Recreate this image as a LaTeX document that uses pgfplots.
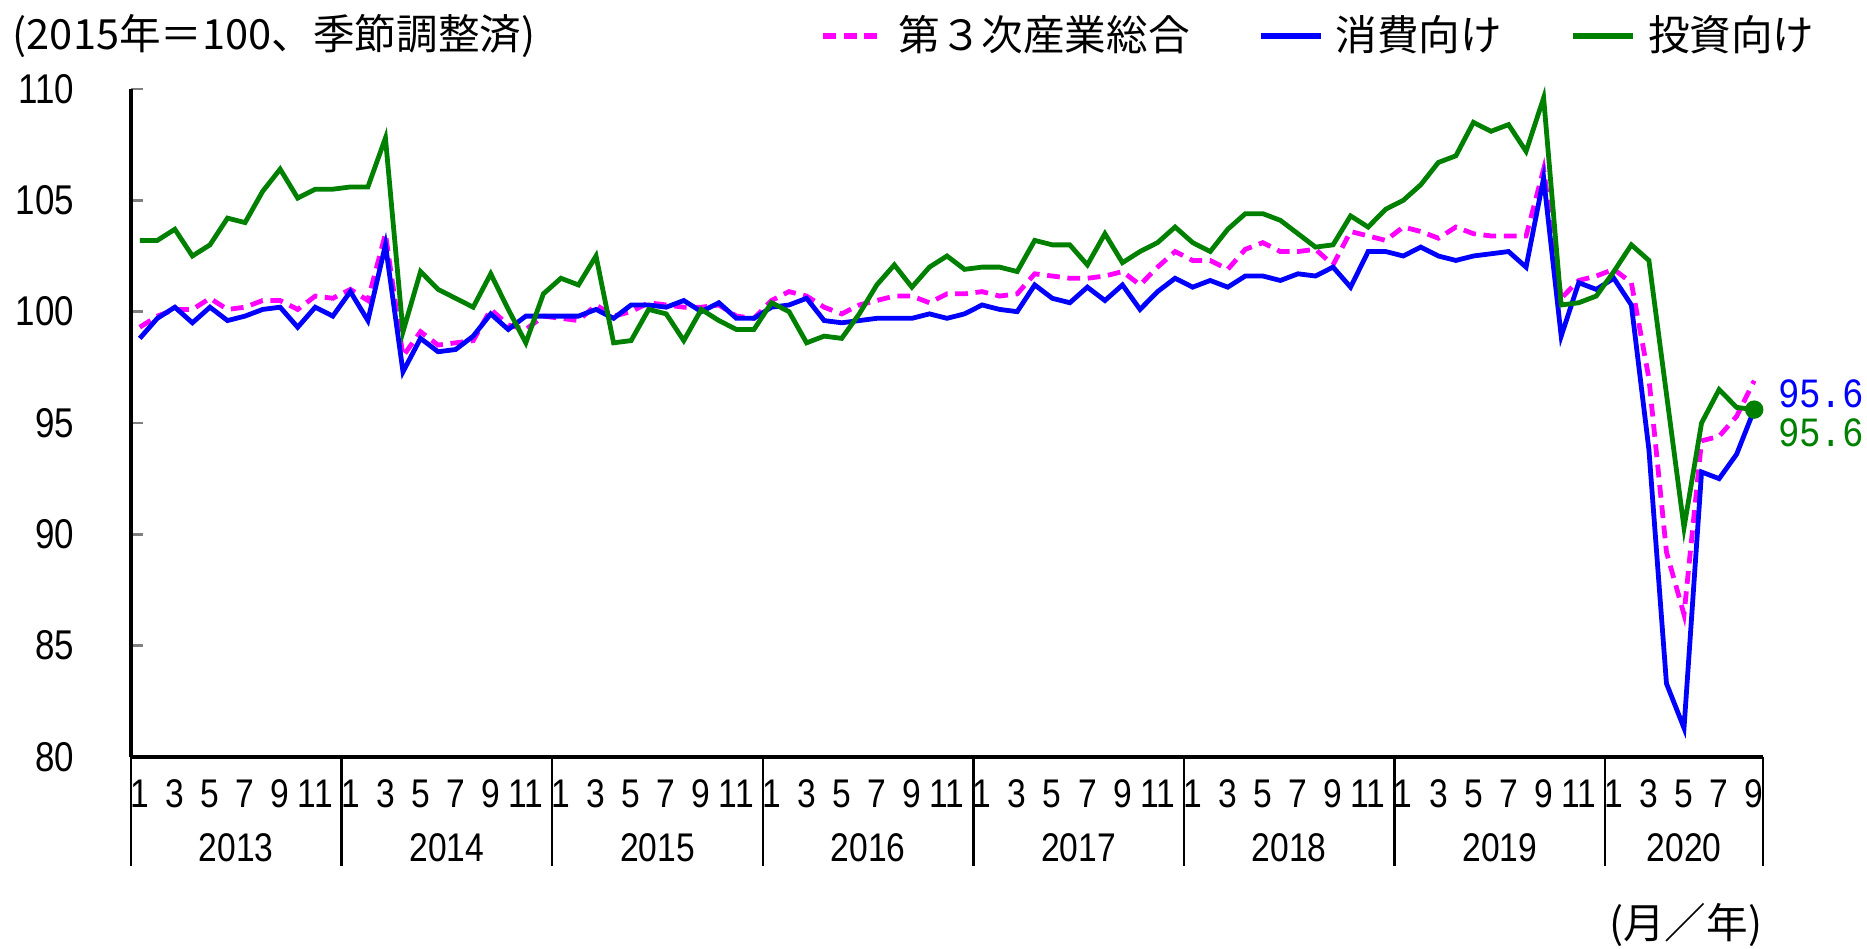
\documentclass[border=0pt]{standalone}
\usepackage{pgfplots}
\pgfplotsset{compat=1.18}
\usepackage{pgfplotstable}
\usepackage{fontspec}
\setmainfont{Liberation Sans}[FakeStretch=0.84]
\newfontfamily\jp{Noto Sans CJK JP}
\newfontfamily\mono{Liberation Mono}[FakeStretch=0.86]
\definecolor{mg}{RGB}{255,0,255}
\definecolor{bl}{RGB}{0,0,255}
\definecolor{gr}{RGB}{0,128,0}

\pgfplotstableread{
i tot con inv
0 99.3 98.8 103.2
1 99.8 99.7 103.2
2 100.1 100.2 103.7
3 100.1 99.5 102.5
4 100.6 100.2 103.0
5 100.1 99.6 104.2
6 100.2 99.8 104.0
7 100.5 100.1 105.4
8 100.5 100.2 106.4
9 100.1 99.3 105.1
10 100.7 100.2 105.5
11 100.6 99.8 105.5
12 101.0 100.9 105.6
13 100.5 99.6 105.6
14 103.5 103.0 107.8
15 98.0 97.3 99.1
16 99.1 98.8 101.8
17 98.5 98.2 101.0
18 98.6 98.3 100.6
19 98.7 98.9 100.2
20 100.1 99.9 101.7
21 99.4 99.2 100.1
22 99.2 99.8 98.6
23 99.8 99.8 100.8
24 99.7 99.8 101.5
25 99.6 99.8 101.2
26 100.3 100.1 102.5
27 99.8 99.7 98.6
28 100.0 100.3 98.7
29 100.4 100.3 100.1
30 100.3 100.2 99.9
31 100.2 100.5 98.7
32 100.2 100.0 100.1
33 100.3 100.4 99.6
34 99.8 99.7 99.2
35 99.7 99.7 99.2
36 100.5 100.2 100.4
37 100.9 100.3 100.0
38 100.7 100.6 98.6
39 100.2 99.6 98.9
40 99.9 99.5 98.8
41 100.3 99.6 99.9
42 100.5 99.7 101.2
43 100.7 99.7 102.1
44 100.7 99.7 101.1
45 100.4 99.9 102.0
46 100.8 99.7 102.5
47 100.8 99.9 101.9
48 100.9 100.3 102.0
49 100.7 100.1 102.0
50 100.8 100.0 101.8
51 101.7 101.2 103.2
52 101.6 100.6 103.0
53 101.5 100.4 103.0
54 101.5 101.1 102.1
55 101.6 100.5 103.5
56 101.8 101.2 102.2
57 101.2 100.1 102.7
58 102.0 100.9 103.1
59 102.7 101.5 103.8
60 102.3 101.1 103.1
61 102.3 101.4 102.7
62 101.9 101.1 103.7
63 102.8 101.6 104.4
64 103.1 101.6 104.4
65 102.7 101.4 104.1
66 102.7 101.7 103.5
67 102.8 101.6 102.9
68 102.1 102.0 103.0
69 103.6 101.1 104.3
70 103.4 102.7 103.8
71 103.2 102.7 104.6
72 103.8 102.5 105.0
73 103.6 102.9 105.7
74 103.3 102.5 106.7
75 103.8 102.3 107.0
76 103.5 102.5 108.5
77 103.4 102.6 108.1
78 103.4 102.7 108.4
79 103.4 102.0 107.2
80 106.4 106.0 109.6
81 100.6 98.9 100.3
82 101.4 101.3 100.4
83 101.6 101.0 100.7
84 101.9 101.5 101.8
85 101.3 100.3 103.0
86 97.0 93.8 102.3
87 89.2 83.3 96.3
88 86.4 81.3 90.3
89 94.2 92.8 95.0
90 94.4 92.5 96.5
91 95.3 93.6 95.7
92 96.9 95.6 95.6
}\data

\begin{document}
\begin{tikzpicture}
\useasboundingbox (-32.75pt,-48pt) rectangle (434pt,189.25pt);
\begin{axis}[
  at={(0,0)}, anchor=south west,
  scale only axis, width=408pt, height=167pt,
  xmin=-0.5, xmax=92.5, ymin=80, ymax=110,
  clip=false,
  axis lines=left,
  axis line style={-, line width=0.8pt},
  /pgf/number format/assume math mode=true,
  ytick={80,85,...,110},
  ytick align=inside,
  ytick style={line width=0.6pt},
  major tick length=3pt,
  yticklabel style={font=\fontsize{10.4}{12}\selectfont, anchor=east, inner sep=0pt, xshift=-14pt},
  xtick={0,2,...,92},
  xticklabels={1,3,5,7,9,11,1,3,5,7,9,11,1,3,5,7,9,11,1,3,5,7,9,11,1,3,5,7,9,11,1,3,5,7,9,11,1,3,5,7,9,11,1,3,5,7,9},
  xtick style={draw=none},
  xticklabel style={font=\fontsize{10}{12}\selectfont, anchor=center, inner sep=0pt, yshift=-7.75pt},
  legend columns=3,
  legend style={at={(0.422,1)}, anchor=west, yshift=13.25pt, draw=none, fill=none,
    font=\jp\fontsize{10.4}{12}\selectfont, inner sep=0pt,
    /tikz/every even column/.append style={column sep=17pt},
    nodes={inner sep=0pt}},
  legend cell align=left,
  legend image code/.code={\draw[#1, line width=1.5pt] (0pt,0pt) -- (15pt,0pt);},
  /tikz/every odd column/.append style={column sep=3pt},
]
\addplot[mg, line width=1.2pt, dash pattern=on 3.2pt off 1.9pt] table[x=i,y=tot]{\data};
\addplot[bl, line width=1.2pt] table[x=i,y=con]{\data};
\addplot[gr, line width=1.2pt] table[x=i,y=inv]{\data};
\addplot[gr, only marks, mark=*, mark size=2.1pt, forget plot] coordinates {(92,95.6)};
\legend{第３次産業総合,消費向け,投資向け}

\draw[line width=0.6pt] (axis cs:-0.5,80) -- ++(0pt,-27.25pt);
\draw[line width=0.6pt] (axis cs:11.5,80) -- ++(0pt,-27.25pt);
\draw[line width=0.6pt] (axis cs:23.5,80) -- ++(0pt,-27.25pt);
\draw[line width=0.6pt] (axis cs:35.5,80) -- ++(0pt,-27.25pt);
\draw[line width=0.6pt] (axis cs:47.5,80) -- ++(0pt,-27.25pt);
\draw[line width=0.6pt] (axis cs:59.5,80) -- ++(0pt,-27.25pt);
\draw[line width=0.6pt] (axis cs:71.5,80) -- ++(0pt,-27.25pt);
\draw[line width=0.6pt] (axis cs:83.5,80) -- ++(0pt,-27.25pt);
\draw[line width=0.6pt] (axis cs:92.5,80) -- ++(0pt,-27.25pt);

\begin{scope}[every node/.style={font=\fontsize{10}{12}\selectfont, inner sep=0pt, yshift=-22.75pt}]
\node at (axis cs:5.5,80) {2013};
\node at (axis cs:17.5,80) {2014};
\node at (axis cs:29.5,80) {2015};
\node at (axis cs:41.5,80) {2016};
\node at (axis cs:53.5,80) {2017};
\node at (axis cs:65.5,80) {2018};
\node at (axis cs:77.5,80) {2019};
\node at (axis cs:88,80) {2020};
\end{scope}

\node[anchor=east, inner sep=0pt, font=\jp\fontsize{10.4}{12}\selectfont, yshift=-42pt] at (axis cs:92.5,80) {(月／年)};
\node[anchor=west, inner sep=0pt, font=\jp\fontsize{10.4}{12}\selectfont, xshift=-29.75pt, yshift=13.25pt] at (rel axis cs:0,1) {(2015年＝100、季節調整済)};

\node[anchor=west, inner sep=0pt, text=bl, font=\mono\fontsize{10.4}{12}\selectfont, xshift=5.75pt, yshift=4pt] at (axis cs:92,95.6) {95.6};
\node[anchor=west, inner sep=0pt, text=gr, font=\mono\fontsize{10.4}{12}\selectfont, xshift=5.75pt, yshift=-5.75pt] at (axis cs:92,95.6) {95.6};
\end{axis}
\end{tikzpicture}
\end{document}
